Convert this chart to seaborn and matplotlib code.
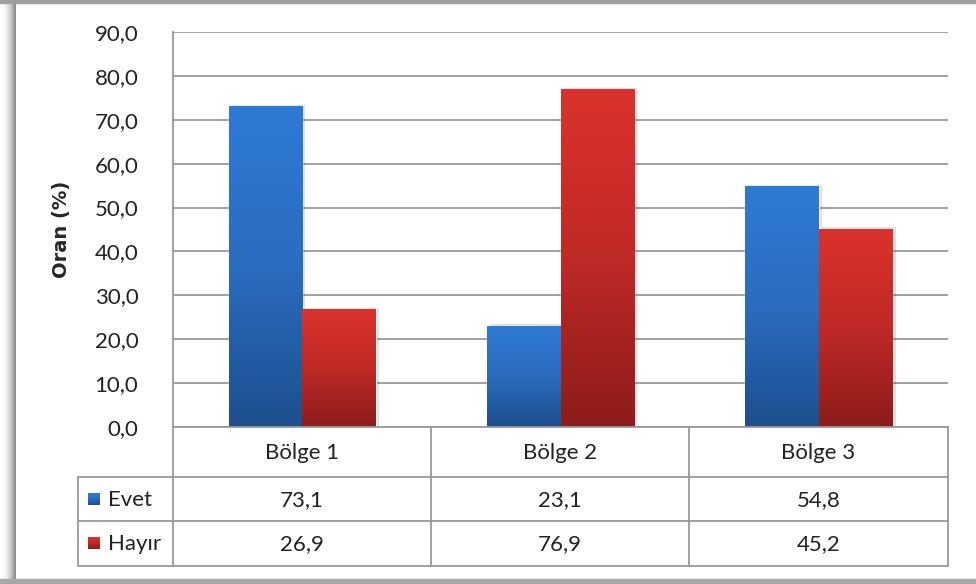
import numpy as np
import pandas as pd
import matplotlib
matplotlib.use("Agg")
import matplotlib.pyplot as plt
from matplotlib.colors import LinearSegmentedColormap
import seaborn as sns

# data
regions = ["Bölge 1", "Bölge 2", "Bölge 3"]
evet = [73.1, 23.1, 54.8]
hayir = [26.9, 76.9, 45.2]
series = ["Evet", "Hayır"]
yticks = [0, 10, 20, 30, 40, 50, 60, 70, 80, 90]

df = pd.DataFrame({
    "Bölge": regions * 2,
    "Seri": [series[0]] * 3 + [series[1]] * 3,
    "Oran": evet + hayir,
})

sns.set_style("white")
plt.rcParams["font.family"] = ["Lato", "DejaVu Sans"]

W, H = 976, 584
fig = plt.figure(figsize=(W / 100, H / 100), dpi=100)

# background frame with shadow
bg = fig.add_axes([0, 0, 1, 1], zorder=-5)
bg.axis("off")
bg.add_patch(plt.Rectangle((0, 0), W, H, color="#ffffff", zorder=0))
shade = np.linspace(0, 1, 16)[None, :] ** 2
bg.imshow(shade, extent=(0, 16, 584, 0), cmap=LinearSegmentedColormap.from_list("s", ["#ffffff", "#8a8a8a"]),
          aspect="auto", vmin=0, vmax=1, zorder=1)
bg.add_patch(plt.Rectangle((0, 0), W, 3, color="#a0a0a0", zorder=2))
bg.add_patch(plt.Rectangle((0, 579), W, 5, color="#a8a8a8", zorder=2))
bg.set_xlim(0, W)
bg.set_ylim(H, 0)

# plot area
x0, x1, ytop, ybot = 173, 948, 32, 427
ax = fig.add_axes([x0 / W, 1 - ybot / H, (x1 - x0) / W, (ybot - ytop) / H])
ax.patch.set_alpha(0)
pal = {"Evet": "#2e78d2", "Hayır": "#d8302c"}
sns.barplot(data=df, x="Bölge", y="Oran", hue="Seri", palette=pal, ax=ax,
            width=0.57, legend=False, saturation=1, zorder=3)

grads = {
    "Evet": LinearSegmentedColormap.from_list("b", ["#1d4f8e", "#2a6cbf", "#2f7ad6"]),
    "Hayır": LinearSegmentedColormap.from_list("r", ["#8c1c1a", "#bf2926", "#db322d"]),
}
for cont, name in zip(ax.containers, series):
    for bar in cont:
        bx, by = bar.get_x(), bar.get_y()
        bw, bh = bar.get_width(), bar.get_height()
        # soft shadow to the right
        ax.add_patch(plt.Rectangle((bx + 0.012, by), bw, bh + 0.3, color="#000000", alpha=0.12, zorder=2, lw=0))
        img = ax.imshow(np.linspace(0, 1, 256)[:, None], extent=(bx, bx + bw, by, by + bh),
                        origin="lower", cmap=grads[name], aspect="auto", zorder=4)
        img.set_clip_path(bar)

ax.set_xlim(-0.5, 2.5)
ax.set_ylim(0, 90)
ax.set_yticks(yticks)
ax.set_yticklabels([f"{v:.1f}".replace(".", ",") for v in yticks], fontsize=16, color="#222222")
ax.tick_params(axis="y", length=0, pad=25)
ax.set_xticks([])
ax.set_xlabel("")
ax.set_ylabel("Oran (%)", fontsize=14, fontweight="bold", labelpad=17, family="DejaVu Sans")
ax.yaxis.grid(True, color="#9a9a9a", lw=1.3, zorder=0)
for s in ["top", "right", "bottom"]:
    ax.spines[s].set_visible(False)
ax.spines["left"].set_color("#9a9a9a")
ax.spines["left"].set_linewidth(1.3)

# data table below the plot
lc = "#9a9a9a"
rows_y = [427, 477, 521, 566]
cols_x = [173, 431, 689, 948]

tb = fig.add_axes([0, 0, 1, 1], zorder=6)
tb.axis("off")
for y in rows_y:
    tb.plot([78 if y >= 477 else 173, 948], [y, y], color=lc, lw=1.3)
for x in cols_x:
    tb.plot([x, x], [427, 566], color=lc, lw=1.3)
tb.plot([78, 78], [477, 566], color=lc, lw=1.3)

for i, r in enumerate(regions):
    cx = (cols_x[i] + cols_x[i + 1]) / 2
    tb.text(cx, (rows_y[0] + rows_y[1]) / 2 + 1, r, ha="center", va="center", fontsize=16, color="#222222")
    tb.text(cx, (rows_y[1] + rows_y[2]) / 2 + 1, f"{evet[i]:.1f}".replace(".", ","), ha="center",
            va="center", fontsize=16, color="#222222")
    tb.text(cx, (rows_y[2] + rows_y[3]) / 2 + 1, f"{hayir[i]:.1f}".replace(".", ","), ha="center",
            va="center", fontsize=16, color="#222222")

for j, name in enumerate(series):
    yc = (rows_y[j + 1] + rows_y[j + 2]) / 2
    tb.imshow(np.linspace(0, 1, 32)[:, None], extent=(88, 100, yc + 6, yc - 6), cmap=grads[name],
              origin="lower", aspect="auto")
    tb.text(108, yc + 1, name, ha="left", va="center", fontsize=16, color="#222222")
tb.set_xlim(0, W)
tb.set_ylim(H, 0)

fig.savefig("out.png", dpi=100)
